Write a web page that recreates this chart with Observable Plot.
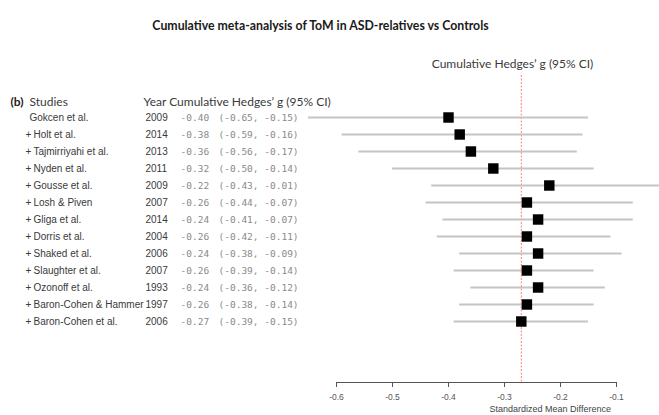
<!DOCTYPE html>
<html>
<head>
<meta charset="utf-8">
<script src="https://cdn.jsdelivr.net/npm/d3@7"></script>
<script src="https://cdn.jsdelivr.net/npm/@observablehq/plot@0.6"></script>
<style>
  html, body { margin: 0; padding: 0; background: #fff; }
  #chart svg { display: block; }
</style>
</head>
<body>
<div id="chart"></div>
<script>
// Cumulative meta-analysis: each row adds one study to the pooled estimate.
const studies = [
  "Gokcen et al.", "Holt et al.", "Tajmirriyahi et al.", "Nyden et al.",
  "Gousse et al.", "Losh & Piven", "Gliga et al.", "Dorris et al.",
  "Shaked et al.", "Slaughter et al.", "Ozonoff et al.",
  "Baron-Cohen & Hammer", "Baron-Cohen et al."
];
const years = [2009, 2014, 2013, 2011, 2009, 2007, 2014, 2004, 2006, 2007, 1993, 1997, 2006];
const estimate = [-0.40, -0.38, -0.36, -0.32, -0.22, -0.26, -0.24, -0.26, -0.24, -0.26, -0.24, -0.26, -0.27];
const lower    = [-0.65, -0.59, -0.56, -0.50, -0.43, -0.44, -0.41, -0.42, -0.38, -0.39, -0.36, -0.38, -0.39];
const upper    = [-0.15, -0.16, -0.17, -0.14, -0.01, -0.07, -0.07, -0.11, -0.09, -0.14, -0.12, -0.14, -0.15];
const xTicks = [-0.6, -0.5, -0.4, -0.3, -0.2, -0.1];

const rows = studies.map((s, i) => ({
  i, study: s, year: years[i], est: estimate[i], lo: lower[i], hi: upper[i]
}));
const first = rows.slice(0, 1);
const added = rows.slice(1);
const pooled = estimate[estimate.length - 1];
const fmt = v => v.toFixed(2).replace("−", "-");

const W = 659, H = 415, ML = 336, MT = 75;
const txt = "#3a3a3a";
const sans = "Liberation Sans, Arial, sans-serif";
const head = "Lato, 'Open Sans', sans-serif";
const mono = "DejaVu Sans Mono, Liberation Mono, monospace";

const chart = Plot.plot({
  width: W,
  height: H,
  marginLeft: ML,
  marginRight: 43,
  marginTop: MT,
  marginBottom: 33,
  style: { background: "#fff", overflow: "visible" },
  x: { domain: [-0.6, -0.1] },
  y: { type: "point", domain: rows.map(d => d.i), range: [117.3, 321.5], padding: 0, axis: null },
  marks: [
    // pooled estimate reference
    Plot.ruleX([pooled], { stroke: "#ff4a4a", strokeWidth: 1, strokeDasharray: "2,1.5", strokeOpacity: 0.7 }),
    // confidence intervals
    Plot.ruleY(rows, { y: "i", x1: "lo", x2: "hi", stroke: "#c4c4c4", strokeWidth: 2 }),
    // point estimates
    Plot.dot(rows, { y: "i", x: "est", symbol: "square", r: 5.9, fill: "#000", stroke: "none" }),
    // x axis
    Plot.frame({ anchor: "bottom", stroke: "#555" }),
    Plot.axisX({
      ticks: xTicks, tickSize: 5, tickPadding: 6, stroke: "#555", color: "#555",
      fontSize: 8.5, fontFamily: sans,
      tickFormat: d => d.toFixed(1).replace("−", "-"), label: null
    }),
    Plot.text(["Standardized Mean Difference"], {
      frameAnchor: "bottom-left", dx: 489 - ML, dy: 29.5,
      fontSize: 9, fontFamily: sans, fill: "#444"
    }),
    // study column: "+" marks each study added after the first
    Plot.text(added, {
      y: "i", frameAnchor: "left", textAnchor: "start", dx: 25 - ML,
      text: () => "+", fontSize: 10, fontFamily: sans, fill: txt
    }),
    Plot.text(first, {
      y: "i", frameAnchor: "left", textAnchor: "start", dx: 29 - ML,
      text: "study", fontSize: 10, fontFamily: sans, fill: txt
    }),
    Plot.text(added, {
      y: "i", frameAnchor: "left", textAnchor: "start", dx: 33 - ML,
      text: "study", fontSize: 10, fontFamily: sans, fill: txt
    }),
    // year column
    Plot.text(rows, {
      y: "i", frameAnchor: "left", textAnchor: "start", dx: 145 - ML,
      text: d => String(d.year), fontSize: 10, fontFamily: sans, fill: txt
    }),
    // cumulative estimate and interval
    Plot.text(rows, {
      y: "i", frameAnchor: "left", textAnchor: "start", dx: 180 - ML,
      text: d => fmt(d.est), fontSize: 9.5, fontFamily: mono, fill: "#8a8a8a"
    }),
    Plot.text(rows, {
      y: "i", frameAnchor: "left", textAnchor: "start", dx: 218 - ML,
      text: d => `(${fmt(d.lo)}, ${fmt(d.hi)})`, fontSize: 9.5, fontFamily: mono, fill: "#8a8a8a"
    }),
    // column headers
    Plot.text(["Studies"], {
      frameAnchor: "top-left", textAnchor: "start", dx: 29 - ML, dy: 97 - MT,
      fontSize: 12, fontFamily: head, fill: txt
    }),
    Plot.text(["(b)"], {
      frameAnchor: "top-left", textAnchor: "start", dx: 10 - ML, dy: 97 - MT,
      fontSize: 12, fontFamily: head, fontWeight: "bold", fill: "#222"
    }),
    Plot.text(["Year Cumulative Hedges\u2019 g (95% CI)"], {
      frameAnchor: "top-left", textAnchor: "start", dx: 143 - ML, dy: 97 - MT,
      fontSize: 12, fontFamily: head, fill: txt
    }),
    Plot.text(["Cumulative Hedges\u2019 g (95% CI)"], {
      frameAnchor: "top-left", textAnchor: "middle", dx: 512 - ML, dy: 59 - MT,
      fontSize: 12, fontFamily: head, fill: txt
    }),
    // title
    Plot.text(["Cumulative meta-analysis of ToM in ASD-relatives vs Controls"], {
      frameAnchor: "top-left", textAnchor: "middle", dx: 320 - ML, dy: 21 - MT,
      fontSize: 12.3, fontFamily: head, fontWeight: "bold", fill: "#1a1a1a"
    })
  ]
});

document.getElementById("chart").appendChild(chart);
</script>
</body>
</html>
